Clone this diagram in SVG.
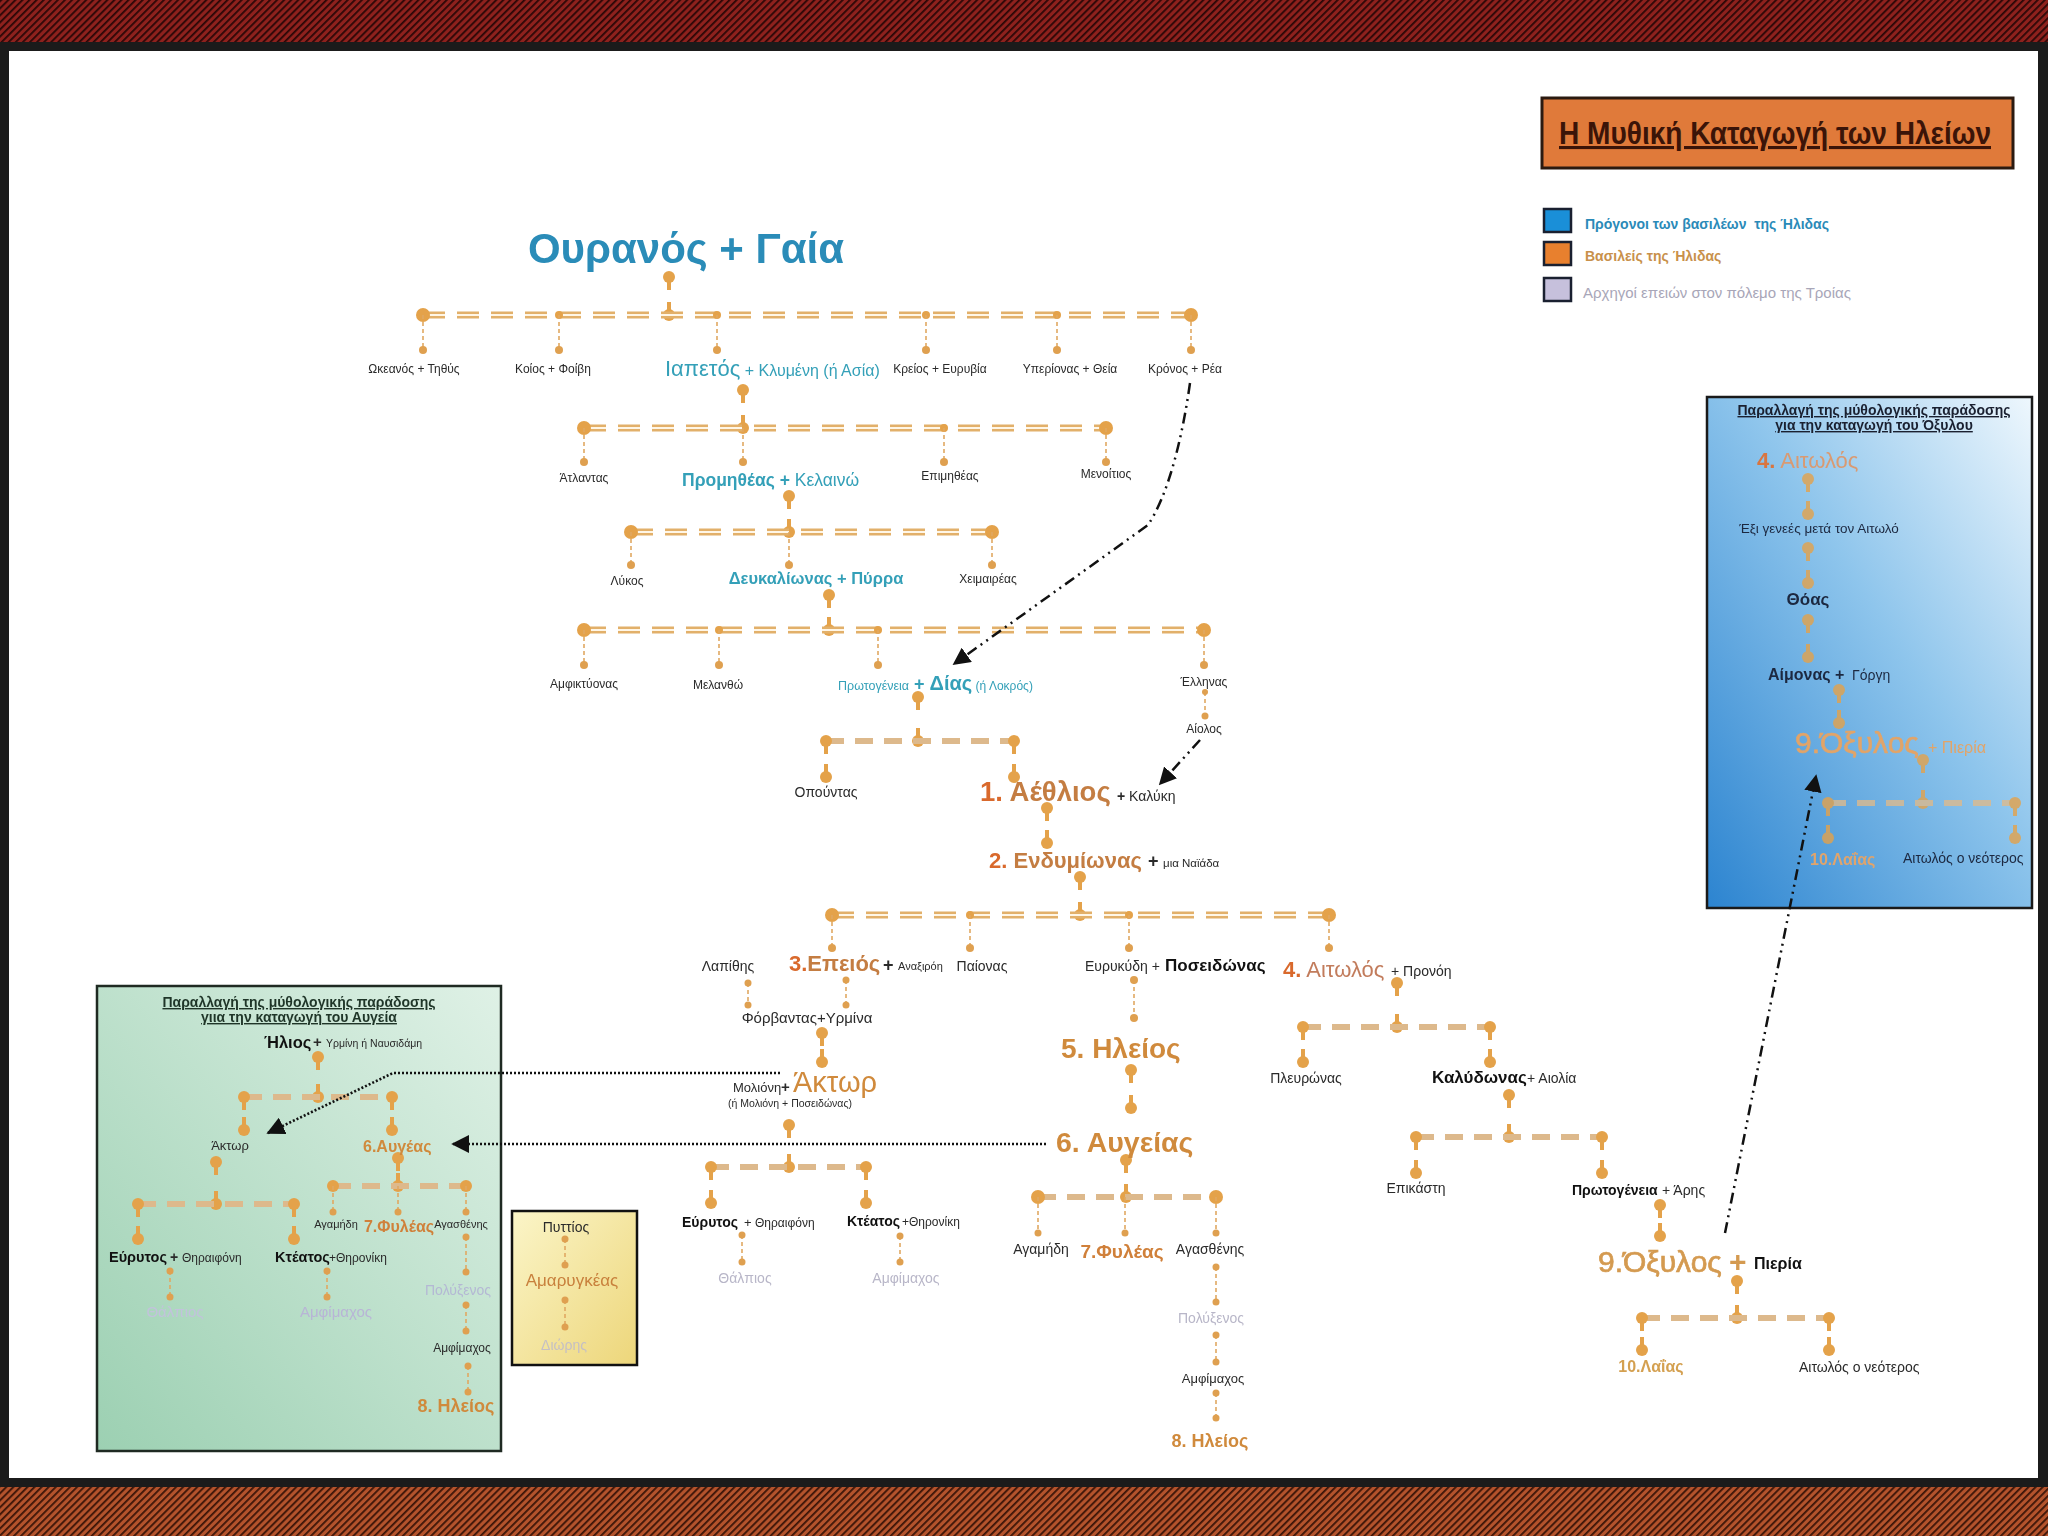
<svg xmlns="http://www.w3.org/2000/svg" xmlns:xlink="http://www.w3.org/1999/xlink" width="2048" height="1536" viewBox="0 0 2048 1536">
<style>
text{font-family:"Liberation Sans",Arial,sans-serif;fill:#2a2a2a}
.s12{font-size:12px}.s13{font-size:13px}.s14{font-size:14px}
.b{font-weight:bold}
.blue{fill:#2A8CB8}.teal{fill:#34A0B8}
.kn{fill:#D9692C}.kb{fill:#C47D42}.k{fill:#D08A3C}
.fade{fill:#B8B6C8}
.navy{fill:#1c2840}
.mid{text-anchor:middle}
.pin line{stroke:#E4A24A;stroke-width:4}
.pin circle{fill:#E4A24A}
.bar2{stroke:#E2B06A;stroke-width:7;stroke-dasharray:22 12;fill:none}
.bar2i{stroke:#FFF6E6;stroke-width:2;stroke-dasharray:22 12;fill:none}
.bar1{stroke:#DDB98C;stroke-width:6;stroke-dasharray:18 11;fill:none}
.drop{stroke:#E0A862;stroke-width:1.6;stroke-dasharray:4 3;fill:none}
.dot{fill:#DFA050}
.endc{fill:#E4A24A}
.arr{stroke:#111;stroke-width:2.5;fill:none;stroke-dasharray:11 5 2 5 2 5}
.dotl{stroke:#111;stroke-width:2.6;fill:none;stroke-dasharray:2 2}
.ul{text-decoration:underline}
</style>
<defs>
<pattern id="hatchTop" width="5" height="5" patternUnits="userSpaceOnUse" patternTransform="rotate(45)">
<rect width="5" height="5" fill="#8e211d"/><rect width="1.8" height="5" fill="#2a0707"/>
</pattern>
<pattern id="hatchBot" width="5" height="5" patternUnits="userSpaceOnUse" patternTransform="rotate(45)">
<rect width="5" height="5" fill="#b4532c"/><rect width="1.8" height="5" fill="#3a1408"/>
</pattern>
<linearGradient id="gBlue" x1="1" y1="0" x2="0" y2="1">
<stop offset="0" stop-color="#eef7fd"/><stop offset="0.45" stop-color="#8ec5ec"/><stop offset="1" stop-color="#2c84d0"/>
</linearGradient>
<linearGradient id="gGreen" x1="1" y1="0" x2="0" y2="1">
<stop offset="0" stop-color="#dff1e6"/><stop offset="1" stop-color="#9cd0b2"/>
</linearGradient>
<linearGradient id="gYellow" x1="0" y1="0" x2="1" y2="1">
<stop offset="0" stop-color="#fbf5c8"/><stop offset="1" stop-color="#edd67a"/>
</linearGradient>
<marker id="ah" viewBox="0 0 10 10" refX="9" refY="5" markerWidth="7" markerHeight="7" orient="auto">
<path d="M0,0 L10,5 L0,10 z" fill="#111"/>
</marker>
<g id="pd" class="pin"><line x1="0" y1="0" x2="0" y2="13"/><circle r="6"/></g>
<g id="pu" class="pin"><line x1="0" y1="-13" x2="0" y2="0"/><circle r="6"/></g>
</defs>

<!-- frame -->
<rect x="0" y="0" width="2048" height="1536" fill="#1b1b1b"/>
<rect x="0" y="0" width="2048" height="42" fill="url(#hatchTop)"/>
<rect x="0" y="1487" width="2048" height="49" fill="url(#hatchBot)"/>
<rect x="9" y="51" width="2029" height="1427" fill="#ffffff"/>

<!-- boxes -->
<rect x="97" y="986" width="404" height="465" fill="url(#gGreen)" stroke="#1f2a22" stroke-width="2.5"/>
<rect x="512" y="1211" width="125" height="154" fill="url(#gYellow)" stroke="#111" stroke-width="2.5"/>
<rect x="1707" y="397" width="325" height="511" fill="url(#gBlue)" stroke="#1a1a1a" stroke-width="2.5"/>

<!-- title & legend -->
<g id="title">
<rect x="1542" y="98" width="471" height="70" fill="#E07A3A" stroke="#2b1a10" stroke-width="3"/>
<text x="1559" y="144" class="b ul" style="font-size:31px;fill:#3b1408" textLength="432" lengthAdjust="spacingAndGlyphs">Η Μυθική Καταγωγή των Ηλείων</text>
</g>
<g id="legend">
<rect x="1544" y="209" width="27" height="23" fill="#1a8fd8" stroke="#1a2030" stroke-width="2.5"/>
<rect x="1544" y="242" width="27" height="23" fill="#E8802E" stroke="#1a2030" stroke-width="2.5"/>
<rect x="1544" y="278" width="27" height="23" fill="#C6C0DC" stroke="#1a2030" stroke-width="2.5"/>
<text x="1585" y="229" class="b" style="font-size:14px;fill:#2A8AB8;white-space:pre" xml:space="preserve">Πρόγονοι των βασιλέων  της Ήλιδας</text>
<text x="1585" y="261" class="b" style="font-size:14px;fill:#C8904A">Βασιλείς της Ήλιδας</text>
<text x="1583" y="298" style="font-size:15px;fill:#A8A6B8">Αρχηγοί επειών στον πόλεμο της Τροίας</text>
</g>

<!-- connectors -->
<g id="connectors">
<!-- row 1 -->
<use href="#pd" x="669" y="277"/><use href="#pu" x="669" y="315"/>
<line x1="423" y1="315" x2="1191" y2="315" class="bar2"/><line x1="423" y1="315" x2="1191" y2="315" class="bar2i"/>
<circle cx="423" cy="315" r="7" class="endc"/><circle cx="1191" cy="315" r="7" class="endc"/>
<circle cx="559" cy="315" r="4" class="endc"/><circle cx="717" cy="315" r="4" class="endc"/><circle cx="926" cy="315" r="4" class="endc"/><circle cx="1057" cy="315" r="4" class="endc"/>
<path class="drop" d="M423,315V350M559,315V350M717,315V350M926,315V350M1057,315V350M1191,315V350"/>
<circle cx="423" cy="350" r="4" class="dot"/><circle cx="559" cy="350" r="4" class="dot"/><circle cx="717" cy="350" r="4" class="dot"/><circle cx="926" cy="350" r="4" class="dot"/><circle cx="1057" cy="350" r="4" class="dot"/><circle cx="1191" cy="350" r="4" class="dot"/>
<!-- row 2 -->
<use href="#pd" x="743" y="390"/><use href="#pu" x="743" y="428"/>
<line x1="584" y1="428" x2="1106" y2="428" class="bar2"/><line x1="584" y1="428" x2="1106" y2="428" class="bar2i"/>
<circle cx="584" cy="428" r="7" class="endc"/><circle cx="1106" cy="428" r="7" class="endc"/><circle cx="944" cy="428" r="4" class="endc"/>
<path class="drop" d="M584,428V462M743,428V462M944,428V462M1106,428V462"/>
<circle cx="584" cy="462" r="4" class="dot"/><circle cx="743" cy="462" r="4" class="dot"/><circle cx="944" cy="462" r="4" class="dot"/><circle cx="1106" cy="462" r="4" class="dot"/>
<!-- row 3 -->
<use href="#pd" x="789" y="496"/><use href="#pu" x="789" y="532"/>
<line x1="631" y1="532" x2="992" y2="532" class="bar2"/><line x1="631" y1="532" x2="992" y2="532" class="bar2i"/>
<circle cx="631" cy="532" r="7" class="endc"/><circle cx="992" cy="532" r="7" class="endc"/>
<path class="drop" d="M631,532V565M789,532V565M992,532V565"/>
<circle cx="631" cy="565" r="4" class="dot"/><circle cx="789" cy="565" r="4" class="dot"/><circle cx="992" cy="565" r="4" class="dot"/>
<!-- row 4 -->
<use href="#pd" x="829" y="595"/><use href="#pu" x="829" y="630"/>
<line x1="584" y1="630" x2="1204" y2="630" class="bar2"/><line x1="584" y1="630" x2="1204" y2="630" class="bar2i"/>
<circle cx="584" cy="630" r="7" class="endc"/><circle cx="1204" cy="630" r="7" class="endc"/><circle cx="719" cy="630" r="4" class="endc"/><circle cx="878" cy="630" r="4" class="endc"/>
<path class="drop" d="M584,630V665M719,630V665M878,630V665M1204,630V665"/>
<circle cx="584" cy="665" r="4" class="dot"/><circle cx="719" cy="665" r="4" class="dot"/><circle cx="878" cy="665" r="4" class="dot"/><circle cx="1204" cy="665" r="4" class="dot"/>
<path class="drop" d="M1205,692V716"/><circle cx="1205" cy="692" r="3" class="dot"/><circle cx="1205" cy="716" r="3.5" class="dot"/>
<!-- Dias children -->
<use href="#pd" x="918" y="697"/><use href="#pu" x="918" y="741"/>
<line x1="826" y1="741" x2="1014" y2="741" class="bar1"/>
<use href="#pd" x="826" y="741"/><use href="#pu" x="826" y="777"/>
<use href="#pd" x="1014" y="741"/><use href="#pu" x="1014" y="777"/>
<!-- Aethlios -> Endymion -->
<use href="#pd" x="1047" y="808"/><use href="#pu" x="1047" y="843"/>
<!-- Endymion children -->
<use href="#pd" x="1080" y="877"/><use href="#pu" x="1080" y="915"/>
<line x1="832" y1="915" x2="1329" y2="915" class="bar2"/><line x1="832" y1="915" x2="1329" y2="915" class="bar2i"/>
<circle cx="832" cy="915" r="7" class="endc"/><circle cx="1329" cy="915" r="7" class="endc"/><circle cx="970" cy="915" r="4" class="endc"/><circle cx="1129" cy="915" r="4" class="endc"/>
<path class="drop" d="M832,915V948M970,915V948M1129,915V948M1329,915V948"/>
<circle cx="832" cy="948" r="4" class="dot"/><circle cx="970" cy="948" r="4" class="dot"/><circle cx="1129" cy="948" r="4" class="dot"/><circle cx="1329" cy="948" r="4" class="dot"/>
<!-- Lapithes / Epeios -> Phorbas -->
<path class="drop" d="M748,983V1005M846,980V1005"/>
<circle cx="748" cy="983" r="3.5" class="dot"/><circle cx="748" cy="1005" r="3.5" class="dot"/>
<circle cx="846" cy="980" r="3.5" class="dot"/><circle cx="846" cy="1005" r="3.5" class="dot"/>
<use href="#pd" x="822" y="1033"/><use href="#pu" x="822" y="1062"/>
<!-- Aktor children -->
<use href="#pd" x="789" y="1125"/><use href="#pu" x="789" y="1167"/>
<line x1="711" y1="1167" x2="866" y2="1167" class="bar1"/>
<use href="#pd" x="711" y="1167"/><use href="#pu" x="711" y="1203"/>
<use href="#pd" x="866" y="1167"/><use href="#pu" x="866" y="1203"/>
<path class="drop" d="M742,1235V1262M900,1236V1262"/>
<circle cx="742" cy="1235" r="3.5" class="dot"/><circle cx="742" cy="1262" r="3.5" class="dot"/>
<circle cx="900" cy="1236" r="3.5" class="dot"/><circle cx="900" cy="1262" r="3.5" class="dot"/>
<!-- Eurykyde -> Eleios -> Augeias -->
<path class="drop" d="M1134,980V1018"/><circle cx="1134" cy="980" r="4" class="dot"/><circle cx="1134" cy="1018" r="4" class="dot"/>
<use href="#pd" x="1131" y="1070"/><use href="#pu" x="1131" y="1108"/>
<use href="#pd" x="1126" y="1160"/><use href="#pu" x="1126" y="1197"/>
<line x1="1038" y1="1197" x2="1216" y2="1197" class="bar1"/>
<circle cx="1038" cy="1197" r="7" class="endc"/><circle cx="1216" cy="1197" r="7" class="endc"/>
<path class="drop" d="M1038,1197V1233M1125,1197V1233M1216,1197V1233"/>
<circle cx="1038" cy="1233" r="3.5" class="dot"/><circle cx="1125" cy="1233" r="3.5" class="dot"/><circle cx="1216" cy="1233" r="3.5" class="dot"/>
<path class="drop" d="M1216,1267V1302M1216,1335V1362M1216,1393V1418"/>
<circle cx="1216" cy="1267" r="3.5" class="dot"/><circle cx="1216" cy="1302" r="3.5" class="dot"/>
<circle cx="1216" cy="1335" r="3.5" class="dot"/><circle cx="1216" cy="1362" r="3.5" class="dot"/>
<circle cx="1216" cy="1393" r="3.5" class="dot"/><circle cx="1216" cy="1418" r="3.5" class="dot"/>
<!-- Aitolos children -->
<use href="#pd" x="1397" y="983"/><use href="#pu" x="1397" y="1027"/>
<line x1="1303" y1="1027" x2="1490" y2="1027" class="bar1"/>
<use href="#pd" x="1303" y="1027"/><use href="#pu" x="1303" y="1062"/>
<use href="#pd" x="1490" y="1027"/><use href="#pu" x="1490" y="1062"/>
<use href="#pd" x="1509" y="1095"/><use href="#pu" x="1509" y="1137"/>
<line x1="1416" y1="1137" x2="1602" y2="1137" class="bar1"/>
<use href="#pd" x="1416" y="1137"/><use href="#pu" x="1416" y="1173"/>
<use href="#pd" x="1602" y="1137"/><use href="#pu" x="1602" y="1173"/>
<use href="#pd" x="1660" y="1205"/><use href="#pu" x="1660" y="1236"/>
<use href="#pd" x="1737" y="1281"/><use href="#pu" x="1737" y="1318"/>
<line x1="1642" y1="1318" x2="1829" y2="1318" class="bar1"/>
<use href="#pd" x="1642" y="1318"/><use href="#pu" x="1642" y="1350"/>
<use href="#pd" x="1829" y="1318"/><use href="#pu" x="1829" y="1350"/>
<!-- green box tree -->
<use href="#pd" x="318" y="1057"/><use href="#pu" x="318" y="1097"/>
<line x1="244" y1="1097" x2="392" y2="1097" class="bar1"/>
<use href="#pd" x="244" y="1097"/><use href="#pu" x="244" y="1130"/>
<use href="#pd" x="392" y="1097"/><use href="#pu" x="392" y="1130"/>
<use href="#pd" x="398" y="1158"/><use href="#pu" x="398" y="1186"/>
<line x1="333" y1="1186" x2="466" y2="1186" class="bar1"/>
<circle cx="333" cy="1186" r="6" class="endc"/><circle cx="466" cy="1186" r="6" class="endc"/>
<path class="drop" d="M333,1186V1212M398,1186V1212M466,1186V1212"/>
<circle cx="333" cy="1212" r="3.5" class="dot"/><circle cx="398" cy="1212" r="3.5" class="dot"/><circle cx="466" cy="1212" r="3.5" class="dot"/>
<path class="drop" d="M466,1237V1272M466,1305V1331M468,1366V1392"/>
<circle cx="466" cy="1237" r="3.5" class="dot"/><circle cx="466" cy="1272" r="3.5" class="dot"/>
<circle cx="466" cy="1305" r="3.5" class="dot"/><circle cx="466" cy="1331" r="3.5" class="dot"/>
<circle cx="468" cy="1366" r="3.5" class="dot"/><circle cx="468" cy="1392" r="3.5" class="dot"/>
<use href="#pd" x="216" y="1162"/><use href="#pu" x="216" y="1204"/>
<line x1="138" y1="1204" x2="294" y2="1204" class="bar1"/>
<use href="#pd" x="138" y="1204"/><use href="#pu" x="138" y="1239"/>
<use href="#pd" x="294" y="1204"/><use href="#pu" x="294" y="1239"/>
<path class="drop" d="M170,1271V1297M327,1271V1297"/>
<circle cx="170" cy="1271" r="3.5" class="dot"/><circle cx="170" cy="1297" r="3.5" class="dot"/>
<circle cx="327" cy="1271" r="3.5" class="dot"/><circle cx="327" cy="1297" r="3.5" class="dot"/>
<!-- yellow box -->
<path class="drop" d="M565,1239V1265M565,1300V1327"/>
<circle cx="565" cy="1239" r="3.5" class="dot"/><circle cx="565" cy="1265" r="3.5" class="dot"/>
<circle cx="565" cy="1300" r="3.5" class="dot"/><circle cx="565" cy="1327" r="3.5" class="dot"/>
<!-- blue box tree -->
<g opacity="0.8">
<use href="#pd" x="1808" y="479"/><use href="#pu" x="1808" y="514"/>
<use href="#pd" x="1808" y="548"/><use href="#pu" x="1808" y="583"/>
<use href="#pd" x="1808" y="620"/><use href="#pu" x="1808" y="657"/>
<use href="#pd" x="1839" y="690"/><use href="#pu" x="1839" y="723"/>
<use href="#pd" x="1923" y="760"/><use href="#pu" x="1923" y="803"/>
<line x1="1828" y1="803" x2="2015" y2="803" class="bar1"/>
<use href="#pd" x="1828" y="803"/><use href="#pu" x="1828" y="838"/>
<use href="#pd" x="2015" y="803"/><use href="#pu" x="2015" y="838"/>
</g>
<!-- arrows -->
<path class="arr" d="M1190,383 C1182,440 1168,495 1148,525 L954,664" marker-end="url(#ah)"/>
<path class="arr" d="M1200,740 L1160,784" marker-end="url(#ah)"/>
<path class="arr" d="M1725,1233 L1816,776" marker-end="url(#ah)"/>
<path class="dotl" d="M780,1073 L393,1073 L268,1133" marker-end="url(#ah)"/>
<path class="dotl" d="M1046,1144 L453,1144" marker-end="url(#ah)"/>
</g>

<!-- nodes: main tree -->
<g id="n-ouranos"><text x="686" y="263" class="mid b blue" style="font-size:42px">Ουρανός + Γαία</text></g>
<g id="n-okeanos"><text x="414" y="373" class="mid s12">Ωκεανός + Τηθύς</text></g>
<g id="n-koios"><text x="553" y="373" class="mid s12">Κοίος + Φοίβη</text></g>
<g id="n-iapetos"><text x="665" y="376" class="teal"><tspan style="font-size:22px">Ιαπετός</tspan><tspan style="font-size:16px"> + Κλυμένη (ή Ασία)</tspan></text></g>
<g id="n-kreios"><text x="940" y="373" class="mid s12">Κρείος + Ευρυβία</text></g>
<g id="n-hyperion"><text x="1070" y="373" class="mid s12">Υπερίονας + Θεία</text></g>
<g id="n-kronos"><text x="1185" y="373" class="mid s12">Κρόνος + Ρέα</text></g>

<g id="n-atlas"><text x="584" y="482" class="mid s12">Άτλαντας</text></g>
<g id="n-prometheus"><text x="682" y="486" class="teal" style="font-size:17.5px"><tspan class="b">Προμηθέας</tspan><tspan class="b"> + </tspan><tspan>Κελαινώ</tspan></text></g>
<g id="n-epimetheus"><text x="950" y="480" class="mid s12">Επιμηθέας</text></g>
<g id="n-menoitios"><text x="1106" y="478" class="mid s12">Μενοίτιος</text></g>

<g id="n-lykos"><text x="627" y="585" class="mid s12">Λύκος</text></g>
<g id="n-deukalion"><text x="816" y="584" class="mid b teal" style="font-size:16.5px">Δευκαλίωνας + Πύρρα</text></g>
<g id="n-cheimarreus"><text x="988" y="583" class="mid s12">Χειμαιρέας</text></g>

<g id="n-amphiktyon"><text x="584" y="688" class="mid s12">Αμφικτύονας</text></g>
<g id="n-melantho"><text x="718" y="689" class="mid s12">Μελανθώ</text></g>
<g id="n-dias"><text x="838" y="690" class="teal"><tspan style="font-size:12.5px">Πρωτογένεια</tspan><tspan class="b" style="font-size:18px"> + </tspan><tspan class="b" style="font-size:20px">Δίας</tspan><tspan style="font-size:12px"> (ή Λοκρός)</tspan></text></g>
<g id="n-hellen"><text x="1204" y="686" class="mid s12">Έλληνας</text></g>
<g id="n-aiolos"><text x="1204" y="733" class="mid s12">Αίολος</text></g>

<g id="n-opous"><text x="826" y="797" class="mid s14">Οπούντας</text></g>
<g id="n-aethlios"><text x="980" y="801" class="b" style="font-size:27.5px"><tspan class="kn">1.</tspan><tspan class="kb"> Αέθλιος</tspan></text><text x="1117" y="801" class="s14"><tspan class="b">+</tspan> Καλύκη</text></g>
<g id="n-endymion"><text x="989" y="868" class="b" style="font-size:22px"><tspan class="kn">2.</tspan><tspan class="kb"> Ενδυμίωνας</tspan></text><text x="1148" y="867" class="b" style="font-size:18px">+</text><text x="1163" y="867" style="font-size:11.5px">μια Ναϊάδα</text></g>

<g id="n-lapithes"><text x="728" y="971" class="mid s14">Λαπίθης</text></g>
<g id="n-epeios"><text x="789" y="971" class="b" style="font-size:22px"><tspan class="kn">3.</tspan><tspan class="kb">Επειός</tspan></text><text x="883" y="971" class="b" style="font-size:18px">+</text><text x="898" y="970" style="font-size:11px">Αναξιρόη</text></g>
<g id="n-paion"><text x="982" y="971" class="mid s14">Παίονας</text></g>
<g id="n-eurykyde"><text x="1085" y="971" class="s14">Ευρυκύδη +</text><text x="1165" y="971" class="b" style="font-size:17px;fill:#111">Ποσειδώνας</text></g>
<g id="n-aitolos"><text x="1283" y="977" style="font-size:22px"><tspan class="b kn">4.</tspan><tspan style="fill:#C27C5C"> Αιτωλός</tspan></text><text x="1391" y="976" class="s14">+ Προνόη</text></g>

<g id="n-phorbas"><text x="807" y="1023" class="mid" style="font-size:15px">Φόρβαντας+Υρμίνα</text></g>
<g id="n-aktor"><text x="733" y="1092" class="s13">Μολιόνη</text><text x="781" y="1092" class="b" style="font-size:15px">+</text><text x="793" y="1092" class="k" style="font-size:29px">Άκτωρ</text>
<text x="790" y="1107" class="mid" style="font-size:10.5px">(ή Μολιόνη + Ποσειδώνας)</text></g>
<g id="n-eurytos"><text x="682" y="1227" class="b s14" style="fill:#111">Εύρυτος</text><text x="744" y="1227" class="s13">+</text><text x="755" y="1227" class="s12">Θηραιφόνη</text></g>
<g id="n-kteatos"><text x="847" y="1226" class="b s14" style="fill:#111">Κτέατος</text><text x="902" y="1226" class="s12">+Θηρονίκη</text></g>
<g id="n-thalpios"><text x="745" y="1283" class="mid s14 fade">Θάλπιος</text></g>
<g id="n-amphimachos1"><text x="906" y="1283" class="mid s14 fade">Αμφίμαχος</text></g>

<g id="n-eleios5"><text x="1061" y="1058" class="b k" style="font-size:28px">5. Ηλείος</text></g>
<g id="n-augeias"><text x="1056" y="1152" class="b k" style="font-size:28.5px">6. Αυγείας</text></g>
<g id="n-agamede"><text x="1041" y="1254" class="mid s14">Αγαμήδη</text></g>
<g id="n-phyleus"><text x="1122" y="1258" class="mid b" style="font-size:19px;fill:#D0803A">7.Φυλέας</text></g>
<g id="n-agasthenes"><text x="1210" y="1254" class="mid s14">Αγασθένης</text></g>
<g id="n-polyxenos"><text x="1211" y="1323" class="mid s14 fade">Πολύξενος</text></g>
<g id="n-amphimachos2"><text x="1213" y="1383" class="mid s13">Αμφίμαχος</text></g>
<g id="n-eleios8"><text x="1210" y="1447" class="mid b k" style="font-size:18px">8. Ηλείος</text></g>

<g id="n-pleuron"><text x="1306" y="1083" class="mid s14">Πλευρώνας</text></g>
<g id="n-kalydon"><text x="1432" y="1083" class="b" style="font-size:17px;fill:#111">Καλύδωνας</text><text x="1527" y="1083" class="s14">+ Αιολία</text></g>
<g id="n-epikaste"><text x="1416" y="1193" class="mid s14">Επικάστη</text></g>
<g id="n-protogeneia2"><text x="1572" y="1195" class="b s14" style="fill:#111">Πρωτογένεια</text><text x="1662" y="1195" class="s14">+ Άρης</text></g>
<g id="n-oxylos"><text x="1598" y="1272" style="font-size:30px;fill:#D49A50;stroke:#D49A50;stroke-width:0.7">9.Όξυλος</text><text x="1729" y="1272" class="b" style="font-size:30px;fill:#D49A50">+</text><text x="1754" y="1269" class="b" style="font-size:16px;fill:#111">Πιερία</text></g>
<g id="n-laias"><text x="1651" y="1372" class="mid b" style="font-size:16px;fill:#D4A050">10.Λαΐας</text></g>
<g id="n-aitolos-young"><text x="1799" y="1372" class="s14">Αιτωλός ο νεότερος</text></g>

<!-- green box nodes -->
<g id="green-title"><text x="299" y="1007" class="mid b ul s14" style="fill:#1f3528">Παραλλαγή της μύθολογικής παράδοσης</text>
<text x="299" y="1022" class="mid b ul s14" style="fill:#1f3528">γιια την καταγωγή του Αυγεία</text></g>
<g id="g-helios"><text x="264" y="1048" class="b" style="font-size:16.5px;fill:#111">Ήλιος</text><text x="313" y="1047" class="b" style="font-size:15px">+</text><text x="326" y="1047" style="font-size:10.5px">Υρμίνη ή Ναυσιδάμη</text></g>
<g id="g-aktor"><text x="230" y="1150" class="mid s13">Άκτωρ</text></g>
<g id="g-augeas"><text x="363" y="1152" class="b k" style="font-size:16px">6.Αυγέας</text></g>
<g id="g-agamede"><text x="336" y="1228" class="mid" style="font-size:11px">Αγαμήδη</text></g>
<g id="g-phyleus"><text x="399" y="1232" class="mid b" style="font-size:16px;fill:#D0803A">7.Φυλέας</text></g>
<g id="g-agasthenes"><text x="461" y="1228" class="mid" style="font-size:11px">Αγασθένης</text></g>
<g id="g-polyxenos"><text x="458" y="1295" class="mid s14" style="fill:#B4B8D4">Πολύξενος</text></g>
<g id="g-amphimachos"><text x="462" y="1352" class="mid s12">Αμφίμαχος</text></g>
<g id="g-eleios"><text x="456" y="1412" class="mid b k" style="font-size:18px">8. Ηλείος</text></g>
<g id="g-eurytos"><text x="109" y="1262" class="b" style="font-size:14.5px;fill:#111">Εύρυτος</text><text x="170" y="1262" class="b s14">+</text><text x="182" y="1262" class="s12">Θηραιφόνη</text></g>
<g id="g-kteatos"><text x="275" y="1262" class="b" style="font-size:14.5px;fill:#111">Κτέατος</text><text x="329" y="1262" class="s12">+Θηρονίκη</text></g>
<g id="g-thalpios"><text x="175" y="1317" class="mid" style="font-size:15px;fill:#C2C2DC">Θάλπιος</text></g>
<g id="g-amphimachos2"><text x="336" y="1317" class="mid" style="font-size:15px;fill:#B8B4D6">Αμφίμαχος</text></g>

<!-- yellow box nodes -->
<g id="y-pyttios"><text x="566" y="1232" class="mid s14">Πυττίος</text></g>
<g id="y-amarynkeus"><text x="572" y="1286" class="mid" style="font-size:17px;fill:#C8803C">Αμαρυγκέας</text></g>
<g id="y-diores"><text x="564" y="1350" class="mid s14" style="fill:#C4BFC4">Διώρης</text></g>

<!-- blue box nodes -->
<g id="blue-title"><text x="1874" y="415" class="mid b ul s14" style="fill:#1a2030">Παραλλαγή της μύθολογικής παράδοσης</text>
<text x="1874" y="430" class="mid b ul s14" style="fill:#1a2030">για την καταγωγή του Όξυλου</text></g>
<g id="b-aitolos"><text x="1757" y="468" style="font-size:22px"><tspan class="b" style="fill:#D87540">4.</tspan><tspan style="fill:#D99A72"> Αιτωλός</tspan></text></g>
<g id="b-six"><text x="1819" y="533" class="mid navy" style="font-size:13.5px">Έξι γενεές μετά τον Αιτωλό</text></g>
<g id="b-thoas"><text x="1808" y="605" class="mid b navy" style="font-size:17px">Θόας</text></g>
<g id="b-haimon"><text x="1768" y="680" class="b navy" style="font-size:16px">Αίμονας +</text><text x="1852" y="680" class="navy s14">Γόργη</text></g>
<g id="b-oxylos"><text x="1795" y="753" style="font-size:30px;fill:#E2A468;stroke:#E2A468;stroke-width:0.6">9.Όξυλος</text><text x="1928" y="753" style="font-size:16px;fill:#E2A468">+ Πιερία</text></g>
<g id="b-laias"><text x="1810" y="865" class="b" style="font-size:16px;fill:#E0A46C">10.Λαΐας</text></g>
<g id="b-aitolos-young"><text x="1903" y="863" class="navy s14">Αιτωλός ο νεότερος</text></g>
</svg>
